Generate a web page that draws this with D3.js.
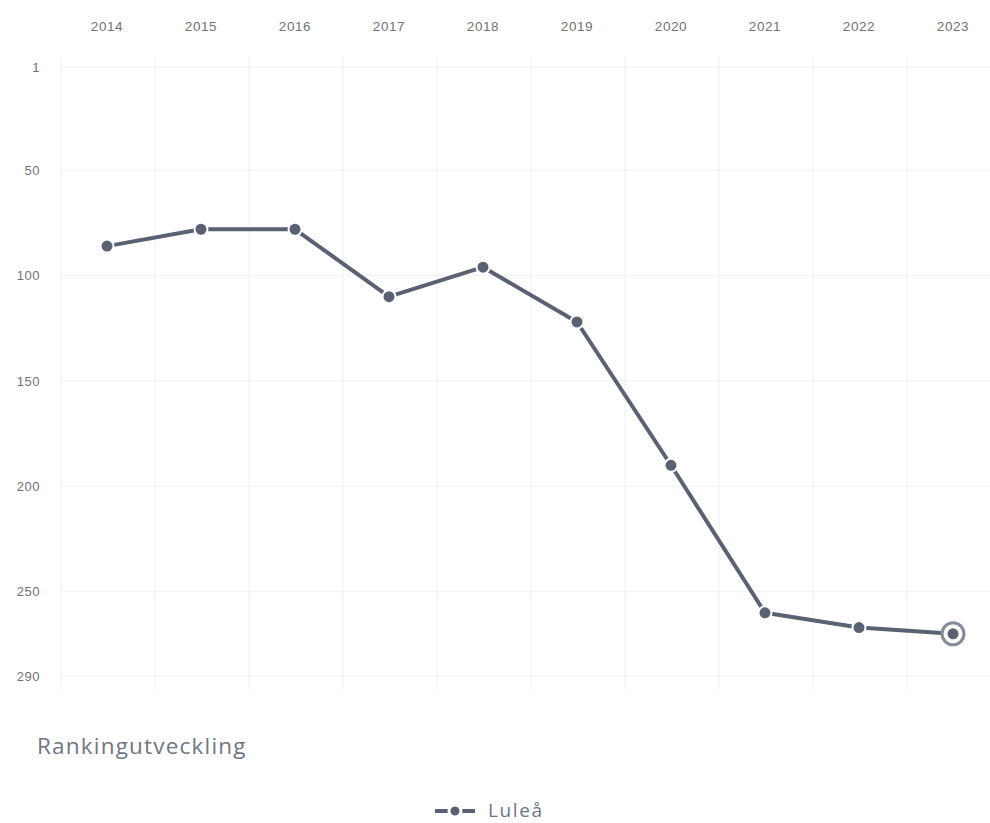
<!DOCTYPE html>
<html>
<head>
<meta charset="utf-8">
<script src="https://cdn.jsdelivr.net/npm/d3@7"></script>
<style>
  body { margin: 0; background: #fff; }
  svg { display: block; font-family: "Open Sans", "Noto Sans", sans-serif; }
</style>
</head>
<body>
<div id="chart"></div>
<script>
const years = ["2014", "2015", "2016", "2017", "2018", "2019", "2020", "2021", "2022", "2023"];
const ranks = [86, 78, 78, 110, 96, 122, 190, 260, 267, 270];
const yTicks = [1, 50, 100, 150, 200, 250, 290];
const seriesName = "Luleå";
const title = "Rankingutveckling";

const W = 990, H = 823;
const lineColor = "#596172";
const textColor = "#727272";

const svg = d3.select("#chart").append("svg")
  .attr("width", W)
  .attr("height", H);

const x = d3.scaleBand().domain(years).range([60, 1000]);
const y = d3.scaleLinear().domain([1, 290]).range([67, 676]);
const gridTop = 55, gridBottom = 690;

// grid: vertical lines at band edges
svg.append("g")
  .selectAll("line")
  .data(years)
  .join("line")
  .attr("x1", d => x(d) + 1)
  .attr("x2", d => x(d) + 1)
  .attr("y1", gridTop)
  .attr("y2", gridBottom)
  .attr("stroke", "#efefef")
  .attr("stroke-width", 1);

// grid: horizontal lines at y ticks
svg.append("g")
  .selectAll("line")
  .data(yTicks)
  .join("line")
  .attr("x1", 62)
  .attr("x2", W)
  .attr("y1", d => y(d))
  .attr("y2", d => y(d))
  .attr("stroke", "#f1f1f1")
  .attr("stroke-width", 1);

// x axis on top
const xAxis = svg.append("g")
  .attr("transform", "translate(0,31)")
  .call(d3.axisTop(x).tickSize(0).tickPadding(0));
xAxis.select(".domain").remove();
xAxis.selectAll("text")
  .attr("fill", textColor)
  .style("font-size", "13.5px")
  .style("letter-spacing", "0.6px")
  .attr("dy", 0);

// y axis
const yAxis = svg.append("g")
  .attr("transform", "translate(40,0)")
  .call(d3.axisLeft(y).tickValues(yTicks).tickFormat(d3.format("d")).tickSize(0).tickPadding(0));
yAxis.select(".domain").remove();
yAxis.selectAll("text")
  .attr("fill", textColor)
  .style("font-size", "13px")
  .style("letter-spacing", "0.5px");

const pts = years.map((yr, i) => ({ year: yr, rank: ranks[i] }));
const cx = d => x(d.year) + x.bandwidth() / 2;

const line = d3.line()
  .x(cx)
  .y(d => y(d.rank));

svg.append("path")
  .datum(pts)
  .attr("d", line)
  .attr("fill", "none")
  .attr("stroke", lineColor)
  .attr("stroke-width", 4)
  .attr("stroke-linejoin", "round");

// highlight ring on last point
const last = pts[pts.length - 1];
svg.append("circle")
  .attr("cx", cx(last))
  .attr("cy", y(last.rank))
  .attr("r", 11)
  .attr("fill", "#fff")
  .attr("stroke", "#858c99")
  .attr("stroke-width", 3);

svg.append("g")
  .selectAll("circle")
  .data(pts)
  .join("circle")
  .attr("cx", cx)
  .attr("cy", d => y(d.rank))
  .attr("r", 6.5)
  .attr("fill", lineColor)
  .attr("stroke", "#fff")
  .attr("stroke-width", 2);

// title
svg.append("text")
  .attr("x", 37)
  .attr("y", 754)
  .attr("fill", "#6f7683")
  .style("font-size", "22.5px")
  .style("letter-spacing", "1.2px")
  .text(title);

// legend
const lg = svg.append("g").attr("transform", "translate(435,811)");
lg.append("line")
  .attr("x1", 0).attr("x2", 40)
  .attr("y1", 0).attr("y2", 0)
  .attr("stroke", lineColor)
  .attr("stroke-width", 4);
lg.append("circle")
  .attr("cx", 20).attr("cy", 0).attr("r", 6)
  .attr("fill", lineColor)
  .attr("stroke", "#fff")
  .attr("stroke-width", 3);
lg.append("text")
  .attr("x", 53)
  .attr("y", 6)
  .attr("fill", "#6f7683")
  .style("font-size", "19px")
  .style("letter-spacing", "1.6px")
  .text(seriesName);
</script>
</body>
</html>
